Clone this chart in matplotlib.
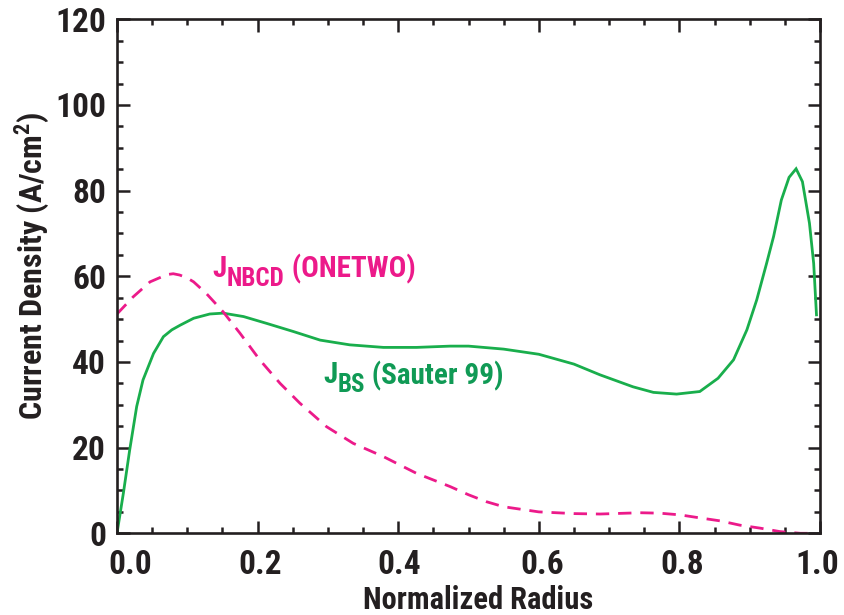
import matplotlib
matplotlib.use("Agg")
import matplotlib.pyplot as plt
from matplotlib import font_manager
from matplotlib.transforms import ScaledTranslation
from matplotlib.ticker import MultipleLocator

# bootstrap current J_BS (Sauter 99)
r_bs = [0.0, 0.009, 0.018, 0.028, 0.037, 0.052, 0.066, 0.078, 0.090, 0.109,
        0.132, 0.151, 0.180, 0.213, 0.251, 0.289, 0.331, 0.379, 0.426, 0.474,
        0.50, 0.55, 0.60, 0.65, 0.687, 0.734, 0.763, 0.796, 0.829, 0.855,
        0.877, 0.896, 0.910, 0.924, 0.934, 0.945, 0.956, 0.966, 0.975, 0.985,
        0.991, 0.995]
j_bs = [0.0, 9.3, 19.4, 29.6, 35.8, 42.0, 45.9, 47.5, 48.6, 50.2,
        51.2, 51.4, 50.6, 49.0, 47.1, 45.1, 44.0, 43.4, 43.4, 43.7,
        43.7, 43.0, 41.8, 39.5, 37.0, 34.2, 32.9, 32.5, 33.1, 36.2,
        40.5, 47.5, 54.5, 63.0, 69.3, 77.8, 83.1, 85.1, 82.1, 72.4,
        63.0, 51.0]

# beam driven current J_NBCD (ONETWO)
r_nb = [0.0, 0.023, 0.047, 0.071, 0.080, 0.089, 0.099, 0.109, 0.127, 0.151,
        0.175, 0.203, 0.232, 0.260, 0.298, 0.336, 0.379, 0.426, 0.474, 0.50,
        0.525, 0.55, 0.60, 0.65, 0.687, 0.744, 0.772, 0.801, 0.829, 0.858,
        0.886, 0.915, 0.943, 0.972, 0.99]
j_nb = [51.2, 55.2, 58.7, 60.4, 60.6, 60.3, 59.7, 58.7, 56.0, 51.7,
        46.7, 40.5, 35.0, 30.4, 24.9, 21.0, 17.9, 14.0, 10.9, 9.0,
        7.4, 6.2, 5.0, 4.6, 4.5, 4.8, 4.7, 4.3, 3.6, 2.9,
        1.9, 1.2, 0.4, 0.0, 0.0]

xticks = [0.0, 0.2, 0.4, 0.6, 0.8, 1.0]
xtick_shift_px = [13, 3, 1, 3, 3, -3]
yticks = [0, 20, 40, 60, 80, 100, 120]

green_line = "#19ae4c"
green_text = "#109a55"
magenta = "#ec1a8a"
ink = "#231f20"


def pick_font():
    # want a condensed bold sans, like the Helvetica Condensed of the original
    fonts = font_manager.fontManager.ttflist
    names = {f.name for f in fonts}
    for name in ["Liberation Sans Narrow", "Roboto Condensed", "DejaVu Sans Condensed",
                 "Arial Narrow", "Open Sans Condensed"]:
        if name in names:
            return name, "normal"
    for f in fonts:
        if f.name == "DejaVu Sans" and f.stretch in ("condensed", "semi-condensed"):
            return "DejaVu Sans", "condensed"
    for name in ["Liberation Sans", "Roboto", "Inter"]:
        if name in names:
            return name, "normal"
    return "DejaVu Sans", "normal"


font_name, font_stretch = pick_font()
plt.rcParams["font.family"] = [font_name, "DejaVu Sans"]
plt.rcParams["font.stretch"] = font_stretch
plt.rcParams["font.weight"] = "bold"
plt.rcParams["axes.labelweight"] = "bold"
plt.rcParams["mathtext.fontset"] = "custom"
plt.rcParams["mathtext.bf"] = f"{font_name}:bold"
plt.rcParams["mathtext.rm"] = f"{font_name}:bold"

fig = plt.figure(figsize=(8.45, 6.15), dpi=100)
ax = fig.add_axes([117 / 845, 1 - 533.3 / 615, 703 / 845, 514 / 615])

ax.plot(r_bs, j_bs, color=green_line, lw=2.0, solid_joinstyle="miter")
ax.plot(r_nb, j_nb, color=magenta, lw=2.0, linestyle=(0, (4.8, 3.2)))

ax.set_xlim(0, 1.0)
ax.set_ylim(0, 120)
ax.set_xticks(xticks)
ax.set_xticklabels([f"{v:.1f}" for v in xticks])
ax.set_yticks(yticks)
ax.set_yticklabels([str(v) for v in yticks])
ax.xaxis.set_minor_locator(MultipleLocator(0.05))
ax.yaxis.set_minor_locator(MultipleLocator(5))

for s in ax.spines.values():
    s.set_linewidth(1.9)
    s.set_color(ink)
ax.tick_params(which="both", direction="in", top=True, right=True,
               color=ink, width=1.8)
ax.tick_params(which="major", length=9)
ax.tick_params(which="minor", length=4.5)
ax.tick_params(axis="x", labelsize=24, pad=11, labelcolor=ink)
ax.tick_params(axis="y", labelsize=24, pad=8, labelcolor=ink)

for lab, dx in zip(ax.get_xticklabels(), xtick_shift_px):
    lab.set_transform(lab.get_transform() + ScaledTranslation(dx / 100, 0, fig.dpi_scale_trans))

ax.set_xlabel("Normalized Radius", fontsize=22, color=ink)
ax.set_ylabel("Current Density (A/cm$^\\mathbf{2}$)", fontsize=23, color=ink)
ax.xaxis.set_label_coords(0.513, -0.100)
ax.yaxis.set_label_coords(-0.092, 0.52)


def label_with_sub(x, y, main, sub, rest, color):
    t1 = ax.text(x, y, main, fontsize=21, color=color, ha="left", va="baseline")
    t2 = ax.annotate(sub, xy=(1, -0.28), xycoords=t1, fontsize=18, color=color,
                     ha="left", va="bottom")
    ax.annotate(rest, xy=(1, 0.28), xycoords=t2, fontsize=21, color=color,
                ha="left", va="bottom")


label_with_sub(0.136, 59.8, "J", "NBCD", " (ONETWO)", magenta)
label_with_sub(0.293, 35.0, "J", "BS", " (Sauter 99)", green_text)

fig.savefig("out.png", dpi=100)
